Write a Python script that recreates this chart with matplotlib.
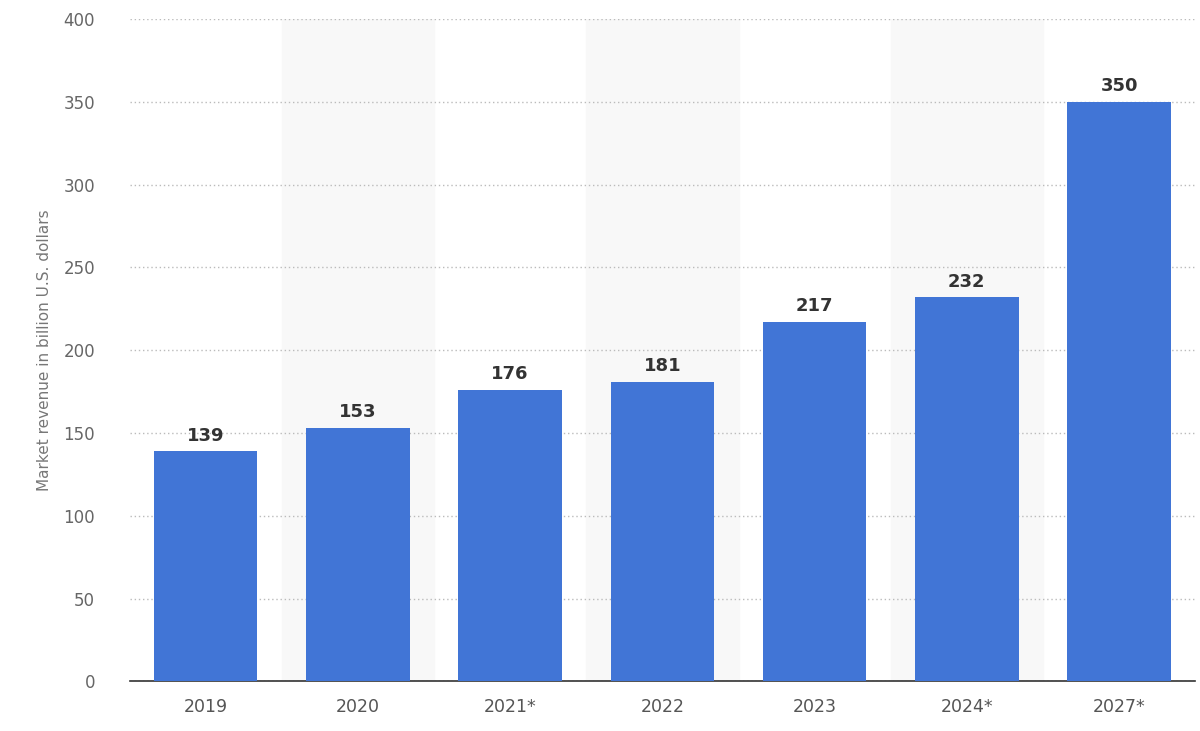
import matplotlib
matplotlib.use("Agg")
import matplotlib.pyplot as plt

years = ["2019", "2020", "2021*", "2022", "2023", "2024*", "2027*"]
values = [139, 153, 176, 181, 217, 232, 350]

fig = plt.figure(figsize=(12, 7.31), dpi=100)
ax = fig.add_axes([0.108, 0.068, 0.888, 0.906])
x = range(len(years))
for i in x:
    if i % 2 == 1:
        ax.axvspan(i - 0.5, i + 0.5, color="#f8f8f8", zorder=0)
ax.bar(x, values, width=0.68, color="#4175d6", zorder=3)
for i, v in zip(x, values):
    ax.text(i, v + 4, str(v), ha="center", va="bottom", fontsize=13,
            fontweight="bold", color="#333333", zorder=4)
ax.set_xlim(-0.5, len(years) - 0.5)
ax.set_ylim(0, 400)
ax.set_yticks(range(0, 401, 50))
ax.set_xticks(list(x))
ax.set_xticklabels(years)
ax.yaxis.grid(True, linestyle=(0, (1, 2)), color="#bbbbbb", linewidth=1, zorder=1)
ax.set_axisbelow(True)
for s in ["top", "right", "left"]:
    ax.spines[s].set_visible(False)
ax.spines["bottom"].set_color("#333333")
ax.spines["bottom"].set_linewidth(1.2)
ax.tick_params(axis="y", length=0, labelsize=12, labelcolor="#666666", pad=25)
ax.tick_params(axis="x", length=0, labelsize=12.5, labelcolor="#555555", pad=12)
ax.set_ylabel("Market revenue in billion U.S. dollars", fontsize=11, color="#777777", labelpad=8)
fig.savefig("out.png")
